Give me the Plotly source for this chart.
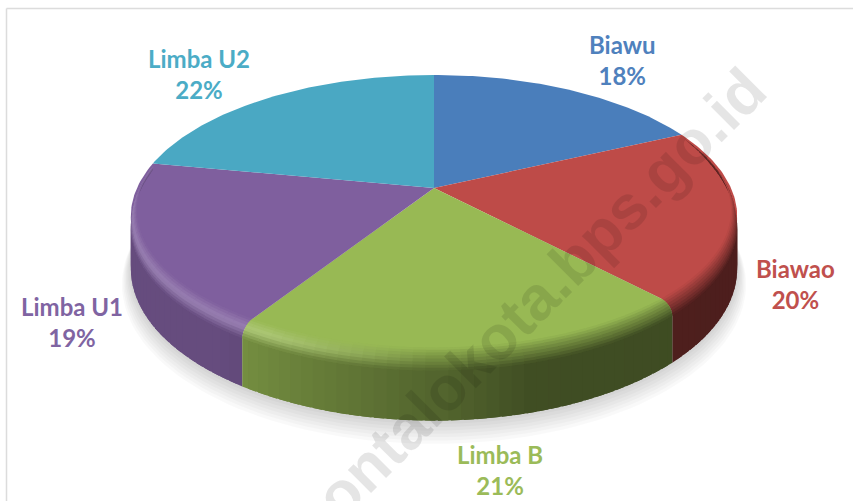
import math
import plotly.graph_objects as go

# ---- data ----
categories = ["Biawu", "Biawao", "Limba B", "Limba U1", "Limba U2"]
values = [18, 20, 21, 19, 22]

# ---- styles ----
face_colors = [(74, 126, 187), (190, 75, 72), (152, 185, 84), (127, 95, 158), (74, 168, 195)]
text_colors = ["#4f81bd", "#c0504d", "#9bbb59", "#8064a2", "#4bacc6"]
label_pos = [(622, 60), (795, 284), (500, 470), (72, 322), (199, 74)]
has_rim = [False, True, True, True, False]

CX, CY, A, B, K = 434.0, 188.0, 135.8, 297.0, 0.2014
DROP, BEVEL_DROP, BEVEL_W = 50.0, 10.0, 0.05
STEP = 2.0


def project(theta, r=1.0, drop=0.0):
    t = math.radians(theta)
    x, y = r * math.sin(t), r * math.cos(t)
    w = 1 + K * y
    return CX + B * x / w, CY - A * y / w + drop / w


def shade(u):
    pts = [(-1.1, .80), (-.6, .80), (-.3, .67), (0, .55), (.25, .42), (1.1, .40)]
    for (a, sa), (b, sb) in zip(pts, pts[1:]):
        if a <= u <= b:
            return sa + (sb - sa) * (u - a) / (b - a)
    return .4


def mix(c1, c2, t):
    return tuple(a + (b - a) * t for a, b in zip(c1, c2))


def rgb(c):
    return "rgb(%d,%d,%d)" % tuple(min(255, max(0, round(v))) for v in c)


fig = go.Figure()


def poly(pts, color):
    xs = [p[0] for p in pts] + [pts[0][0]]
    ys = [p[1] for p in pts] + [pts[0][1]]
    fig.add_trace(go.Scatter(
        x=xs, y=ys, mode="lines", fill="toself", fillcolor=color,
        line=dict(width=0),
        hoverinfo="skip", showlegend=False))


# slice angles from the values
total = sum(values)
edges = [0.0]
for v in values:
    edges.append(edges[-1] + 360.0 * v / total)

# soft shadow
for i in range(7, 0, -1):
    th = [82 + j * 2.0 for j in range(100)]
    pts = [project(t, 1 + 0.004 * i, DROP + 1.9 * i) for t in th]
    poly(pts, "rgba(0,0,0,0.022)")


def columns(a0, a1):
    n = max(1, int(math.ceil((a1 - a0) / STEP)))
    return [(a0 + (a1 - a0) * j / n, a0 + (a1 - a0) * (j + 1) / n, a0, a1) for j in range(n)]


def bevel_drop(theta):
    y = math.cos(math.radians(theta))
    return BEVEL_DROP * max(0.12, min(1.0, (0.6 - y) / 0.6))


def bevel_w(theta):
    y = math.cos(math.radians(theta))
    return BEVEL_W * (0.25 + 0.75 * max(0.0, -y))


# walls, back to front
cols = []
for i in range(len(values)):
    if has_rim[i]:
        cols += [(i,) + c for c in columns(edges[i], edges[i + 1])]
cols.sort(key=lambda c: -math.cos(math.radians((c[1] + c[2]) / 2)))
OVER = 0.8
for i, a, b, s0, s1 in cols:
    mid = (a + b) / 2
    if math.cos(math.radians(mid)) > 0.25:
        continue
    u = math.sin(math.radians(mid))
    wall = mix((0, 0, 0), face_colors[i], shade(u))
    a2, b2 = max(s0, a - OVER), min(s1, b + OVER)
    poly([project(a2, 1, bevel_drop(a2) * 0.9), project(b2, 1, bevel_drop(b2) * 0.9),
          project(b2, 1, DROP), project(a2, 1, DROP)], rgb(wall))

# top faces
for i in range(len(values)):
    a0, a1 = edges[i], edges[i + 1]
    n = int((a1 - a0) / 1.0) + 1
    pts = [(CX, CY)] + [project(a0 + (a1 - a0) * j / n) for j in range(n + 1)]
    poly(pts, rgb(face_colors[i]))

# rounded rim
ROWS = 8
for i, a, b, s0, s1 in cols:
    mid = (a + b) / 2
    u = math.sin(math.radians(mid))
    F = face_colors[i]
    W = mix((0, 0, 0), F, shade(u))
    hl = max(0.0, min(1.0, -u * 2.2))
    H = mix(mix(F, W, 0.5), mix(F, (255, 255, 255), 0.20), hl)
    a2, b2 = max(s0, a - OVER), min(s1, b + OVER)
    for row in range(ROWS):
        t0, t1 = row / ROWS, min(1.0, (row + 1.6) / ROWS)
        q0, q1 = t0 * math.pi / 2, t1 * math.pi / 2
        tm = (row + 0.5) / ROWS
        c = mix(F, H, tm / 0.5) if tm < 0.5 else mix(H, W, (tm - 0.5) / 0.5)
        poly([project(a2, 1 - bevel_w(a2) * (1 - math.sin(q0)), bevel_drop(a2) * (1 - math.cos(q0))),
              project(b2, 1 - bevel_w(b2) * (1 - math.sin(q0)), bevel_drop(b2) * (1 - math.cos(q0))),
              project(b2, 1 - bevel_w(b2) * (1 - math.sin(q1)), bevel_drop(b2) * (1 - math.cos(q1))),
              project(a2, 1 - bevel_w(a2) * (1 - math.sin(q1)), bevel_drop(a2) * (1 - math.cos(q1)))],
             rgb(c))

# labels
annots = []
for name, v, col, (lx, ly) in zip(categories, values, text_colors, label_pos):
    annots.append(dict(
        x=lx, y=ly, xref="x", yref="y", showarrow=False, align="center",
        text="<b>%s<br>%d%%</b>" % (name, v),
        font=dict(family="Lato", size=24, color=col)))

# watermark
annots.append(dict(
    x=540, y=293, xref="x", yref="y", showarrow=False, textangle=-45,
    text="<b>ontalokota.bps.go.id</b>",
    font=dict(family="Liberation Sans", size=62, color="rgba(0,0,0,0.10)")))

fig.update_layout(
    width=853, height=501, autosize=False,
    margin=dict(l=0, r=0, t=0, b=0),
    paper_bgcolor="white", plot_bgcolor="white", showlegend=False,
    xaxis=dict(range=[0, 853], visible=False, fixedrange=True),
    yaxis=dict(range=[501, 0], visible=False, fixedrange=True),
    annotations=annots,
    shapes=[
        dict(type="line", xref="x", yref="y", x0=6.5, x1=6.5, y0=8.5, y1=501,
             line=dict(color="#dcdcdc", width=1.5)),
        dict(type="line", xref="x", yref="y", x0=6.5, x1=853, y0=8.5, y1=8.5,
             line=dict(color="#dcdcdc", width=1.5)),
    ],
)
fig.write_html("out.html", config=dict(displayModeBar=False),
               post_script="document.body.style.margin='0';document.body.style.overflow='hidden';")
